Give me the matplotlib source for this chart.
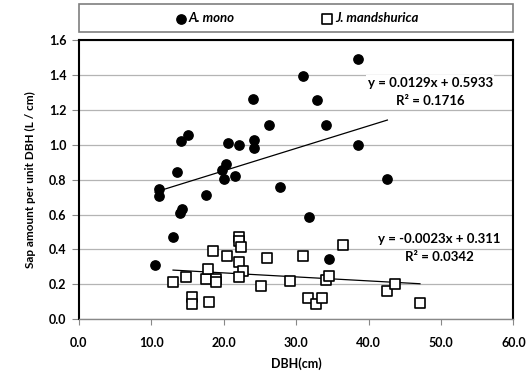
import numpy as np
import matplotlib
matplotlib.use("Agg")
import matplotlib.pyplot as plt
from matplotlib.patches import Rectangle

plt.rcParams['font.family'] = ['Lato', 'DejaVu Sans']

# A. mono
mono_x = [10.5, 11.1, 11.1, 13.0, 13.5, 14.0, 14.3, 14.1, 15.1, 17.6, 19.8, 20.0, 20.3,
          20.6, 21.6, 22.1, 24.1, 24.2, 24.2, 26.3, 27.8, 31.0, 31.8, 32.9, 34.1, 34.5,
          38.6, 38.6, 42.6]
mono_y = [0.313, 0.747, 0.705, 0.47, 0.842, 0.61, 0.632, 1.023, 1.055, 0.712, 0.855, 0.807,
          0.89, 1.013, 0.819, 0.998, 1.261, 1.029, 0.985, 1.114, 0.756, 1.398, 0.585, 1.259,
          1.116, 0.347, 1.493, 0.998, 0.802]

# J. mandshurica
jm_x = [13.0, 14.8, 15.6, 15.6, 17.5, 17.8, 18.0, 18.5, 19.0, 19.0, 20.5, 22.1, 22.1, 22.4,
        22.1, 22.6, 22.1, 25.2, 26.0, 29.1, 31.0, 31.7, 32.8, 33.6, 34.1, 34.6, 36.5, 42.6,
        43.6, 47.1]
jm_y = [0.21, 0.242, 0.124, 0.086, 0.229, 0.29, 0.099, 0.392, 0.232, 0.213, 0.36, 0.474,
        0.451, 0.413, 0.327, 0.276, 0.242, 0.19, 0.35, 0.219, 0.362, 0.12, 0.089, 0.122,
        0.223, 0.246, 0.423, 0.16, 0.2, 0.091]

# trend line coefficients (slope, intercept, r2)
mono_fit = (0.0129, 0.5933, 0.1716)
jm_fit = (-0.0023, 0.311, 0.0342)

fig = plt.figure(figsize=(5.26, 3.78), dpi=100)
ax = fig.add_axes([0.150, 0.156, 0.826, 0.737])

ax.set_xlim(0, 60)
ax.set_ylim(0, 1.6)
ax.set_xticks(np.arange(0, 61, 10))
ax.set_yticks(np.arange(0, 1.61, 0.2))
ax.set_xticklabels(['%.1f' % v for v in np.arange(0, 61, 10)], fontweight='bold', fontsize=9)
ax.set_yticklabels(['%.1f' % v for v in np.arange(0, 1.61, 0.2)], fontweight='bold', fontsize=9)
ax.yaxis.grid(True, color='#b4b4b4', lw=0.9)
ax.set_axisbelow(True)
ax.tick_params(axis='y', direction='out', length=5, color='#888888', pad=4)
ax.tick_params(axis='x', direction='out', length=4, color='#888888', pad=9)
for s in ['left', 'top', 'right']:
    ax.spines[s].set_color('black')
    ax.spines[s].set_linewidth(1.5)
ax.spines['bottom'].set_color('#888888')
ax.spines['bottom'].set_linewidth(1)

ax.scatter(mono_x, mono_y, s=45, marker='o', color='black', zorder=3, label='A. mono')
ax.scatter(jm_x, jm_y, s=42, marker='s', facecolor='white', edgecolor='black',
           linewidth=1.2, zorder=3, label='J. mandshurica')

for xs, fit in [(mono_x, mono_fit), (jm_x, jm_fit)]:
    xx = np.array([min(xs), max(xs)])
    ax.plot(xx, fit[0] * xx + fit[1], color='black', lw=0.9, zorder=2)

box = dict(facecolor='white', edgecolor='none', pad=1)
ax.text(48.5, 1.356, 'y = %.4fx + %.4f' % (mono_fit[0], mono_fit[1]), ha='center', va='center',
        fontsize=9.5, fontweight='bold', bbox=box)
ax.text(48.5, 1.255, 'R² = %.4f' % mono_fit[2], ha='center', va='center',
        fontsize=9.5, fontweight='bold', bbox=box)
ax.text(49.8, 0.457, 'y = %.4fx + %.3f' % (jm_fit[0], jm_fit[1]), ha='center', va='center',
        fontsize=9.5, fontweight='bold', bbox=box)
ax.text(49.8, 0.356, 'R² = %.4f' % jm_fit[2], ha='center', va='center',
        fontsize=9.5, fontweight='bold', bbox=box)

ax.set_xlabel('DBH(cm)', fontweight='bold', fontsize=9, labelpad=6)
ax.set_ylabel('Sap amount per unit DBH (L / cm)', fontweight='bold', fontsize=8.5, labelpad=9)

ax.add_patch(Rectangle((0, 1.03), 1, 0.1, transform=ax.transAxes, fill=False,
                       edgecolor='#7f7f7f', lw=1.2, clip_on=False))
leg = ax.legend(loc='center', bbox_to_anchor=(0.5, 1.08), ncol=2, frameon=False,
                prop=dict(weight='bold', style='italic', size=9.5), handletextpad=0.1,
                columnspacing=6.5, handlelength=1, borderaxespad=0)

fig.savefig('out.png', dpi=100)
